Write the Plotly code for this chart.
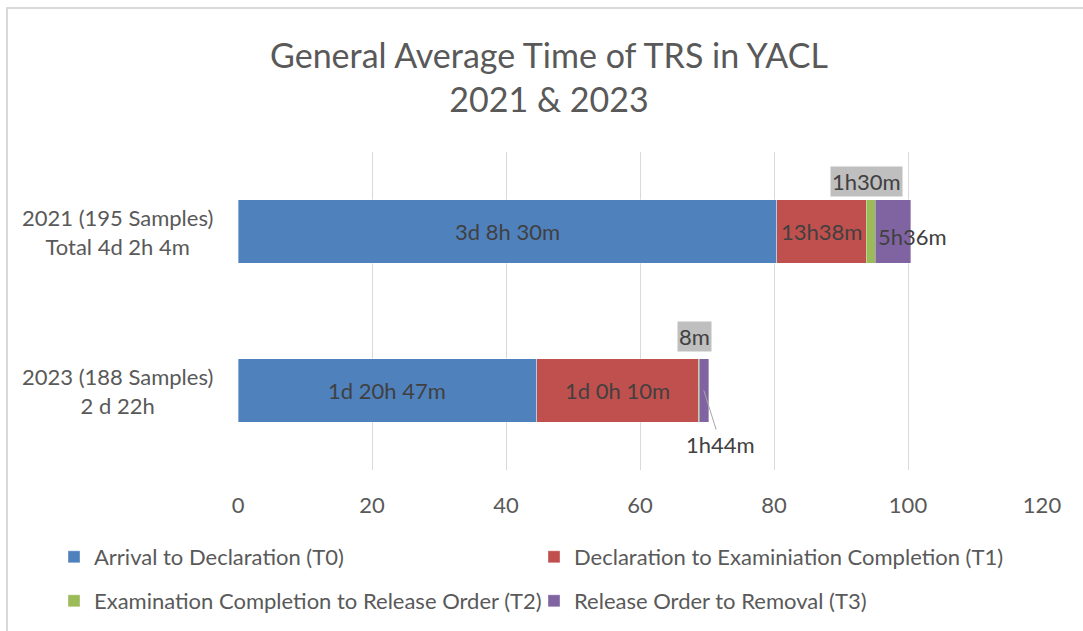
import plotly.graph_objects as go

# ---- data ----
categories = ["2021 (195 Samples)<br>Total 4d 2h 4m", "2023 (188 Samples)<br>2 d 22h"]
series_names = [
    "Arrival to Declaration (T0)",
    "Declaration to Examiniation Completion (T1)",
    "Examination Completion to Release Order (T2)",
    "Release Order to Removal (T3)",
]
t0 = [80.4, 44.6]
t1 = [13.4, 24.1]
t2 = [1.3, 0.13]
t3 = [5.3, 1.4]
t0_labels = ["3d 8h 30m", "1d 20h 47m"]
t1_labels = ["13h38m", "1d 0h 10m"]
t2_labels = ["1h30m", "8m"]
t3_labels = ["5h36m", "1h44m"]
x_ticks = [0, 20, 40, 60, 80, 100, 120]

colors = ["#4F81BD", "#C0504D", "#9BBB59", "#8064A2"]
FONT = "Lato"
TXT = "#404040"
GRAY = "#595959"
FS = 22

series = [t0, t1, t2, t3]
legend_ids = ["legend", "legend2", "legend3", "legend4"]

fig = go.Figure()
for name, vals, col, lg in zip(series_names, series, colors, legend_ids):
    fig.add_trace(go.Bar(
        y=categories, x=vals, name=name, orientation="h",
        marker=dict(color=col, line=dict(color="rgba(255,255,255,0.6)", width=0.6)),
        width=0.4, legend=lg, hoverinfo="x+name",
    ))

annotations = []
for i, cat in enumerate(categories):
    starts = [0, t0[i], t0[i] + t1[i], t0[i] + t1[i] + t2[i]]
    centers = [s + v[i] / 2 for s, v in zip(starts, series)]
    for lab, c in ((t0_labels[i], centers[0]), (t1_labels[i], centers[1])):
        annotations.append(dict(x=c, y=cat, xref="x", yref="y", text=lab, showarrow=False,
                                font=dict(family=FONT, size=FS, color=TXT)))
    annotations.append(dict(x=centers[2], y=cat, xref="x", yref="y", text=t2_labels[i],
                            showarrow=False, xshift=-4, yshift=50 if i == 0 else 54,
                            bgcolor="#BFBFBF", borderpad=1,
                            font=dict(family=FONT, size=FS, color=TXT)))
    if i == 0:
        annotations.append(dict(x=centers[3], y=cat, xref="x", yref="y", text=t3_labels[i],
                                showarrow=False, xshift=20, yshift=-5,
                                font=dict(family=FONT, size=FS, color=TXT)))
    else:
        annotations.append(dict(x=centers[3], y=cat, xref="x", yref="y", text=t3_labels[i],
                                showarrow=True, arrowhead=0, arrowwidth=1, arrowcolor="#A6A6A6",
                                ax=17, ay=54, standoff=0,
                                font=dict(family=FONT, size=FS, color=TXT)))
    annotations.append(dict(x=0, y=cat, xref="paper", yref="y", text=cat, showarrow=False,
                            xanchor="right", xshift=-23, align="center",
                            font=dict(family=FONT, size=FS, color=GRAY)))

shapes = [dict(type="rect", xref="paper", yref="paper",
               x0=(7 - 238) / 804, x1=1.2, y0=-0.7, y1=1 + (152 - 8) / 318,
               line=dict(color="#D9D9D9", width=2), fillcolor="rgba(0,0,0,0)", layer="below")]

legend_pos = [(54, 557), (534, 557), (54, 601), (534, 601)]
legend_layout = {}
for lg, (px, py) in zip(legend_ids, legend_pos):
    legend_layout[lg] = dict(xref="container", yref="container", x=px / 1083, y=1 - py / 631,
                             xanchor="left", yanchor="middle", orientation="h",
                             bgcolor="rgba(0,0,0,0)", font=dict(family=FONT, size=FS, color=GRAY))

fig.update_layout(
    width=1083, height=631,
    margin=dict(l=238, r=41, t=152, b=161),
    paper_bgcolor="white", plot_bgcolor="white",
    barmode="stack",
    title=dict(text="General Average Time of TRS in YACL<br>2021 & 2023",
               x=549 / 1083, xanchor="center", xref="container",
               y=1 - 68 / 631, yanchor="middle", yref="container",
               font=dict(family=FONT, size=34, color=GRAY)),
    xaxis=dict(range=[0, 120], tickvals=x_ticks, showgrid=True, gridcolor="#D9D9D9", gridwidth=1,
               zeroline=False, showline=False, ticks="outside", ticklen=16,
               tickcolor="rgba(0,0,0,0)", tickfont=dict(family=FONT, size=FS, color=GRAY),
               fixedrange=True),
    yaxis=dict(autorange="reversed", showticklabels=False, showgrid=False, zeroline=False,
               showline=False, fixedrange=True),
    annotations=annotations,
    shapes=shapes,
    showlegend=True,
    **legend_layout,
)

fig.write_html("out.html", config={"displayModeBar": False},
               post_script="document.body.style.margin='0';")
